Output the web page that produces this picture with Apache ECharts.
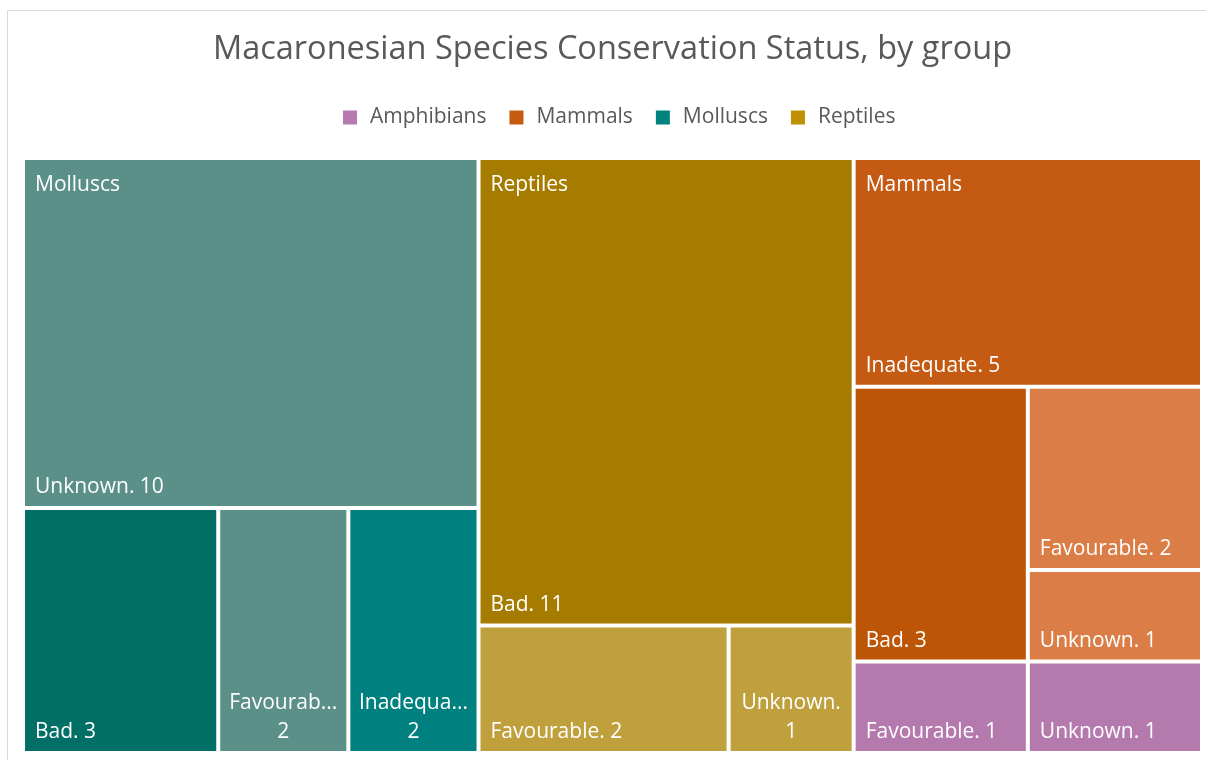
<!DOCTYPE html>
<html>
<head>
<meta charset="utf-8">
<title>Macaronesian Species Conservation Status</title>
<script src="https://cdn.jsdelivr.net/npm/echarts@6/dist/echarts.min.js"></script>
<style>
  html, body { margin: 0; padding: 0; background: #fff; overflow: hidden; }
  #frame {
    position: absolute; left: 7px; top: 10px; width: 1211px; height: 770px;
    border: 1px solid #D9D9D9; box-sizing: border-box; background: #fff;
  }
  #chart { width: 100%; height: 100%; }
</style>
</head>
<body>
<div id="frame"><div id="chart"></div></div>
<script>
// ---- data ----
// Equal counts are placed last-first by the treemap, so ties are listed in reverse.
const groups = ['Molluscs', 'Reptiles', 'Mammals', 'Amphibians'];

const molluscsStatus = ['Unknown', 'Bad', 'Inadequate', 'Favourable'];
const molluscsCount  = [10, 3, 2, 2];

const reptilesStatus = ['Bad', 'Favourable', 'Unknown'];
const reptilesCount  = [11, 2, 1];

const mammalsStatus  = ['Inadequate', 'Bad', 'Favourable', 'Unknown'];
const mammalsCount   = [5, 3, 2, 1];

const amphibiansStatus = ['Unknown', 'Favourable'];
const amphibiansCount  = [1, 1];

const legendNames = ['Amphibians', 'Mammals', 'Molluscs', 'Reptiles'];

const titleText = 'Macaronesian Species Conservation Status, by group';

// ---- styling ----
const FONT = '"Open Sans", "Noto Sans", sans-serif';
const TEXT_GREY = '#595959';
const LABEL_SIZE = 21;
const LABEL_LINE = 29;
const LABEL_PAD = [0, 10, 4, 10];
const WRAP_PAD = [0, 7, 4, 7];
const GROUP_PAD = [11, 10, 0, 10];
const GAP = 4;

const legendColors = {
  Amphibians: '#B77AB0',
  Mammals: '#C55A11',
  Molluscs: '#00827F',
  Reptiles: '#BF9000'
};

const cellColors = {
  Molluscs:   { Unknown: '#5A9088', Bad: '#026F66', Favourable: '#5A9088', Inadequate: '#00807E' },
  Reptiles:   { Bad: '#A57C00', Favourable: '#BFA03D', Unknown: '#BFA03D' },
  Mammals:    { Inadequate: '#C55A12', Bad: '#BC5505', Favourable: '#DB7D47', Unknown: '#DB7D47' },
  Amphibians: { Favourable: '#B479AD', Unknown: '#B479AD' }
};

const groupStatuses = [molluscsStatus, reptilesStatus, mammalsStatus, amphibiansStatus];
const groupCounts   = [molluscsCount, reptilesCount, mammalsCount, amphibiansCount];

const plotRect = { left: 17, top: 149, width: 1175, height: 591 };

// Leaves whose "Name. value" label does not fit get split over two centred lines.
function buildLeaves(wrapSet) {
  return groups.map((g, gi) => ({
    name: g,
    children: groupStatuses[gi].map((s, si) => {
      const wrap = wrapSet.has(g + '|' + s);
      const item = {
        name: s,
        value: groupCounts[gi][si],
        wrap: wrap,
        itemStyle: { color: cellColors[g][s] }
      };
      if (wrap) item.label = { position: 'insideBottom', align: 'center', padding: WRAP_PAD };
      return item;
    })
  }));
}

// Group names sit in the top-left cell of each group, unless that cell is too short.
function buildGroups(hideSet) {
  return groups.map((g, gi) => {
    const item = { name: g, value: groupCounts[gi].reduce((a, b) => a + b, 0) };
    if (hideSet.has(g)) item.label = { show: false };
    return item;
  });
}

const labelText = {
  color: '#fff',
  fontFamily: FONT,
  fontSize: LABEL_SIZE,
  lineHeight: LABEL_LINE
};

function makeOption(wrapSet, hideSet) {
  return {
    animation: false,
    backgroundColor: '#fff',
    title: {
      text: titleText,
      left: 'center',
      top: 22,
      padding: 0,
      textStyle: { fontFamily: FONT, fontSize: 32.5, fontWeight: 'normal', color: TEXT_GREY }
    },
    legend: {
      data: legendNames,
      left: 335,
      top: 96,
      padding: 0,
      icon: 'rect',
      itemWidth: 14,
      itemHeight: 14,
      itemGap: 23,
      selectedMode: false,
      textStyle: { fontFamily: FONT, fontSize: 21, color: TEXT_GREY, padding: [0, 0, 0, 8] }
    },
    series: [
      {
        type: 'treemap',
        name: 'Status',
        left: plotRect.left, top: plotRect.top,
        width: plotRect.width, height: plotRect.height,
        squareRatio: 1,
        roam: false,
        nodeClick: false,
        breadcrumb: { show: false },
        emphasis: { disabled: true },
        itemStyle: { borderWidth: 0, gapWidth: GAP, borderColor: '#fff' },
        levels: [
          { itemStyle: { borderWidth: 0, gapWidth: GAP, borderColor: '#fff' } },
          { itemStyle: { borderWidth: 0, gapWidth: GAP, borderColor: '#fff' } },
          { itemStyle: { borderWidth: 0, gapWidth: 0 } }
        ],
        upperLabel: { show: false },
        label: Object.assign({
          show: true,
          position: 'insideBottomLeft',
          distance: 0,
          padding: LABEL_PAD,
          overflow: 'truncate',
          formatter: p => p.data && p.data.wrap
            ? p.name + '.\n' + p.value
            : p.name + '. ' + p.value
        }, labelText),
        data: buildLeaves(wrapSet)
      },
      {
        // group names, laid out identically and drawn above the cells
        type: 'treemap',
        name: 'Groups',
        z: 5,
        left: plotRect.left, top: plotRect.top,
        width: plotRect.width, height: plotRect.height,
        squareRatio: 1,
        silent: true,
        roam: false,
        nodeClick: false,
        breadcrumb: { show: false },
        emphasis: { disabled: true },
        itemStyle: { color: 'rgba(0,0,0,0)', borderWidth: 0, gapWidth: GAP, borderColor: 'rgba(0,0,0,0)' },
        levels: [
          { itemStyle: { borderWidth: 0, gapWidth: GAP, borderColor: 'rgba(0,0,0,0)' } },
          { itemStyle: { color: 'rgba(0,0,0,0)', borderWidth: 0, borderColor: 'rgba(0,0,0,0)' } }
        ],
        upperLabel: { show: false },
        label: Object.assign({
          show: true,
          position: 'insideTopLeft',
          distance: 0,
          padding: GROUP_PAD,
          overflow: 'truncate',
          formatter: p => p.name
        }, labelText),
        data: buildGroups(hideSet)
      }
    ].concat(legendNames.map(n => ({
      type: 'custom',
      name: n,
      coordinateSystem: 'none',
      renderItem: () => null,
      itemStyle: { color: legendColors[n] },
      data: []
    })))
  };
}

const chart = echarts.init(document.getElementById('chart'), null, { renderer: 'canvas' });
chart.setOption(makeOption(new Set(), new Set()));

// Read the computed cells: find labels that need wrapping and groups whose
// top-left cell is too short to also carry the group name, then redraw.
const wrapSet = new Set();
const hideSet = new Set();
try {
  const ctx = document.createElement('canvas').getContext('2d');
  ctx.font = LABEL_SIZE + 'px ' + FONT;
  const tree = chart.getModel().getSeriesByIndex(0).getData().tree;
  const minGroupCell = 3 * LABEL_LINE + GROUP_PAD[0] + LABEL_PAD[2];
  tree.eachNode(node => {
    if (node.depth === 1) {
      let corner = null;
      node.children.forEach(c => {
        const l = c.getLayout();
        if (!corner || l.y < corner.y - 0.5 || (Math.abs(l.y - corner.y) < 0.5 && l.x < corner.x)) corner = l;
      });
      if (corner && corner.height < minGroupCell) hideSet.add(node.name);
    } else if (node.depth === 2) {
      const lay = node.getLayout();
      const text = node.name + '. ' + node.getValue();
      if (ctx.measureText(text).width > lay.width - LABEL_PAD[1] - LABEL_PAD[3]) {
        wrapSet.add(node.parentNode.name + '|' + node.name);
      }
    }
  });
} catch (e) { /* keep the first-pass labels */ }
chart.setOption(makeOption(wrapSet, hideSet), true);
</script>
</body>
</html>
